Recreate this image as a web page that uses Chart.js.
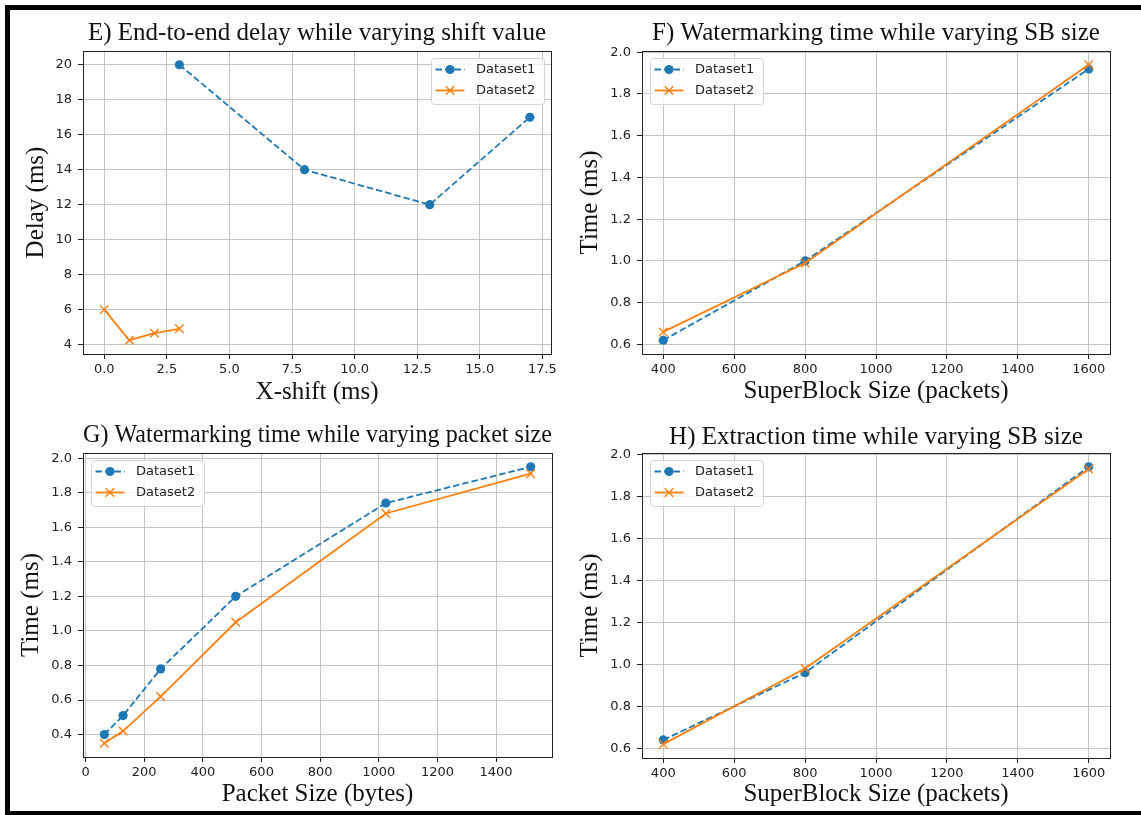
<!DOCTYPE html>
<html>
<head>
<meta charset="utf-8">
<title>Delay and timing results</title>
<script src="https://cdn.jsdelivr.net/npm/chart.js@4.4.0/dist/chart.umd.min.js"></script>
<style>
  html, body { margin: 0; padding: 0; background: #fff; overflow: hidden; }
  #page { position: relative; width: 1141px; height: 815px; }
  .rule { position: absolute; background: #000; }
  canvas { position: absolute; }
</style>
</head>
<body>
<div id="page">
  <div class="rule" style="left:5px;top:5px;width:1136px;height:5px"></div>
  <div class="rule" style="left:5px;top:5px;width:5px;height:810px"></div>
  <div class="rule" style="left:5px;top:811px;width:1136px;height:4px"></div>
  <canvas id="chart-e" width="548" height="398" style="left:12px;top:12px"></canvas>
  <canvas id="chart-f" width="560" height="398" style="left:572px;top:12px"></canvas>
  <canvas id="chart-g" width="548" height="398" style="left:12px;top:412px"></canvas>
  <canvas id="chart-h" width="560" height="398" style="left:572px;top:412px"></canvas>
</div>
<script>
const seriesNames = ['Dataset1', 'Dataset2'];

// E) end-to-end delay vs x-shift
const shiftX1 = [3, 8, 13, 17];
const delay1 = [20, 14, 12, 17];
const shiftX2 = [0, 1, 2, 3];
const delay2 = [6, 4.25, 4.65, 4.9];

// F) watermarking time vs superblock size
const sbSizes = [400, 800, 1600];
const wmTime1 = [0.62, 1.0, 1.92];
const wmTime2 = [0.66, 0.99, 1.94];

// G) watermarking time vs packet size
const packetSizes = [64, 128, 256, 512, 1024, 1518];
const pktTime1 = [0.40, 0.51, 0.78, 1.20, 1.74, 1.95];
const pktTime2 = [0.35, 0.42, 0.62, 1.05, 1.68, 1.91];

// H) extraction time vs superblock size
const extTime1 = [0.64, 0.96, 1.94];
const extTime2 = [0.62, 0.98, 1.93];

const BLUE = '#1f77b4';
const ORANGE = '#ff7f0e';
const GRID = '#c4c4c4';
const INK = '#222222';
const tickFont = { family: 'DejaVu Sans', size: 13 };
const serifFont = { family: 'Liberation Serif', size: 25, weight: 'normal' };

const toPoints = (xs, ys) => xs.map((x, i) => ({ x, y: ys[i] }));

// matplotlib-style autoscale: data range plus 5% each side
function padded(values) {
  const lo = Math.min(...values), hi = Math.max(...values);
  const m = (hi - lo) * 0.05;
  return { min: lo - m, max: hi + m };
}

// ticks at whole multiples of the step inside the axis range
function stepTicks(step) {
  return scale => {
    const ticks = [];
    const first = Math.ceil(scale.min / step - 1e-9);
    for (let k = first; k * step <= scale.max + 1e-9; k++) {
      ticks.push({ value: Math.round(k * step * 1e6) / 1e6 });
    }
    scale.ticks = ticks;
  };
}

function makeDatasets(x1, y1, x2, y2) {
  return [
    {
      label: seriesNames[0], data: toPoints(x1, y1), order: 1,
      borderColor: BLUE, backgroundColor: BLUE, borderWidth: 1.8, borderDash: [6.5, 3],
      pointStyle: 'circle', pointRadius: 4.6, pointBackgroundColor: BLUE,
      pointBorderColor: BLUE, pointBorderWidth: 0, pointHoverRadius: 4.6
    },
    {
      label: seriesNames[1], data: toPoints(x2, y2), order: 0,
      borderColor: ORANGE, backgroundColor: ORANGE, borderWidth: 1.8,
      pointStyle: 'crossRot', pointRadius: 6, pointBorderColor: ORANGE,
      pointBorderWidth: 1.4, pointHoverRadius: 6
    }
  ];
}

// full box around the plot area
const framePlugin = {
  id: 'frame',
  afterDatasetsDraw(chart) {
    const { ctx, chartArea: a } = chart;
    const l = Math.round(a.left), t = Math.round(a.top);
    const r = Math.round(a.right), b = Math.round(a.bottom);
    ctx.save();
    ctx.strokeStyle = INK;
    ctx.lineWidth = 1;
    ctx.strokeRect(l + 0.5, t + 0.5, r - l, b - t);
    ctx.restore();
  }
};

function roundedBox(ctx, x, y, w, h, r) {
  ctx.beginPath();
  ctx.moveTo(x + r, y);
  ctx.lineTo(x + w - r, y);
  ctx.arcTo(x + w, y, x + w, y + r, r);
  ctx.lineTo(x + w, y + h - r);
  ctx.arcTo(x + w, y + h, x + w - r, y + h, r);
  ctx.lineTo(x + r, y + h);
  ctx.arcTo(x, y + h, x, y + h - r, r);
  ctx.lineTo(x, y + r);
  ctx.arcTo(x, y, x + r, y, r);
  ctx.closePath();
}

function drawMarker(ctx, ds, x, y) {
  ctx.beginPath();
  if (ds.pointStyle === 'circle') {
    ctx.fillStyle = ds.pointBackgroundColor;
    ctx.arc(x, y, ds.pointRadius, 0, Math.PI * 2);
    ctx.fill();
  } else {
    const o = ds.pointRadius * Math.SQRT1_2;
    ctx.strokeStyle = ds.pointBorderColor;
    ctx.lineWidth = ds.pointBorderWidth;
    ctx.moveTo(x - o, y - o); ctx.lineTo(x + o, y + o);
    ctx.moveTo(x + o, y - o); ctx.lineTo(x - o, y + o);
    ctx.stroke();
  }
}

// legend box drawn inside the plot, upper left or upper right
const boxLegend = {
  id: 'boxLegend',
  afterDatasetsDraw(chart, args, opts) {
    const { ctx, chartArea: a } = chart;
    const sets = chart.data.datasets;
    ctx.save();
    ctx.font = '13px "DejaVu Sans"';
    const textW = Math.max(...sets.map(d => ctx.measureText(d.label).width));
    const w = Math.round(45 + textW + 9), h = 46;
    const x = opts.corner === 'right' ? Math.round(a.right) - 7 - w : Math.round(a.left) + 8;
    const y = Math.round(a.top) + 7;
    roundedBox(ctx, x + 0.5, y + 0.5, w, h, 3);
    ctx.fillStyle = 'rgba(255,255,255,0.8)';
    ctx.fill();
    ctx.strokeStyle = '#d4d4d4';
    ctx.lineWidth = 1;
    ctx.stroke();
    sets.forEach((d, i) => {
      const cy = y + 11.5 + i * 21;
      ctx.strokeStyle = d.borderColor;
      ctx.lineWidth = d.borderWidth;
      ctx.setLineDash(d.borderDash || []);
      ctx.beginPath();
      ctx.moveTo(x + 4.5, cy);
      ctx.lineTo(x + 33.5, cy);
      ctx.stroke();
      ctx.setLineDash([]);
      drawMarker(ctx, d, x + 19, cy);
      ctx.fillStyle = INK;
      ctx.textBaseline = 'middle';
      ctx.fillText(d.label, x + 45, cy + 0.5);
    });
    ctx.restore();
  }
};

function buildChart(p) {
  const xr = padded(p.datasets.flatMap(d => d.data.map(pt => pt.x)));
  const yr = padded(p.datasets.flatMap(d => d.data.map(pt => pt.y)));
  return new Chart(document.getElementById(p.id), {
    type: 'line',
    data: { datasets: p.datasets },
    plugins: [framePlugin, boxLegend],
    options: {
      responsive: false,
      animation: false,
      devicePixelRatio: 1,
      layout: { padding: { left: 0, right: p.padRight, top: 0, bottom: 0 } },
      plugins: {
        legend: { display: false },
        tooltip: { enabled: false },
        title: {
          display: true, text: p.title, fullSize: false, color: '#111',
          font: serifFont, padding: { top: p.titlePad[0], bottom: p.titlePad[1] }
        },
        boxLegend: { corner: p.legend }
      },
      scales: {
        x: {
          type: 'linear', min: xr.min, max: xr.max,
          afterBuildTicks: stepTicks(p.xStep),
          afterFit: s => { s.height = p.xHeight; },
          border: { display: false },
          grid: { color: GRID, lineWidth: 1, tickColor: INK, tickLength: 5 },
          ticks: {
            autoSkip: false, maxRotation: 0,
            padding: 3, color: INK, font: tickFont, callback: p.xFmt
          },
          title: {
            display: true, text: p.xLabel, color: '#111', font: serifFont,
            padding: { top: 0, bottom: p.xTitlePad }
          }
        },
        y: {
          type: 'linear', min: yr.min, max: yr.max,
          afterBuildTicks: stepTicks(p.yStep),
          afterFit: s => { s.width = p.yWidth; },
          border: { display: false },
          grid: { color: GRID, lineWidth: 1, tickColor: INK, tickLength: 5 },
          ticks: {
            autoSkip: false,
            padding: 6, color: INK, font: tickFont, callback: p.yFmt
          },
          title: {
            display: true, text: p.yLabel, color: '#111', font: serifFont,
            padding: { top: p.yTitlePad, bottom: 0 }
          }
        }
      }
    }
  });
}

const oneDecimal = v => v.toFixed(1);
const plain = v => String(v);

buildChart({
  id: 'chart-e', title: 'E) End-to-end delay while varying shift value',
  xLabel: 'X-shift (ms)', yLabel: 'Delay (ms)',
  datasets: makeDatasets(shiftX1, delay1, shiftX2, delay2),
  xStep: 2.5, yStep: 2, xFmt: oneDecimal, yFmt: plain, legend: 'right',
  yWidth: 71, padRight: 8, titlePad: [6, 3], xHeight: 56, yTitlePad: 9, xTitlePad: 3
});

buildChart({
  id: 'chart-f', title: 'F) Watermarking time while varying SB size',
  xLabel: 'SuperBlock Size (packets)', yLabel: 'Time (ms)',
  datasets: makeDatasets(sbSizes, wmTime1, sbSizes, wmTime2),
  xStep: 200, yStep: 0.2, xFmt: plain, yFmt: oneDecimal, legend: 'left',
  yWidth: 70, padRight: 22, titlePad: [6, 3], xHeight: 56, yTitlePad: 3, xTitlePad: 4
});

buildChart({
  id: 'chart-g', title: 'G) Watermarking time while varying packet size',
  xLabel: 'Packet Size (bytes)', yLabel: 'Time (ms)',
  datasets: makeDatasets(packetSizes, pktTime1, packetSizes, pktTime2),
  xStep: 200, yStep: 0.2, xFmt: plain, yFmt: oneDecimal, legend: 'left',
  yWidth: 71, padRight: 8, titlePad: [8, 3], xHeight: 53, yTitlePad: 4, xTitlePad: 1
});

buildChart({
  id: 'chart-h', title: 'H) Extraction time while varying SB size',
  xLabel: 'SuperBlock Size (packets)', yLabel: 'Time (ms)',
  datasets: makeDatasets(sbSizes, extTime1, sbSizes, extTime2),
  xStep: 200, yStep: 0.2, xFmt: plain, yFmt: oneDecimal, legend: 'left',
  yWidth: 70, padRight: 22, titlePad: [10, 1], xHeight: 52, yTitlePad: 3, xTitlePad: 1
});
</script>
</body>
</html>
